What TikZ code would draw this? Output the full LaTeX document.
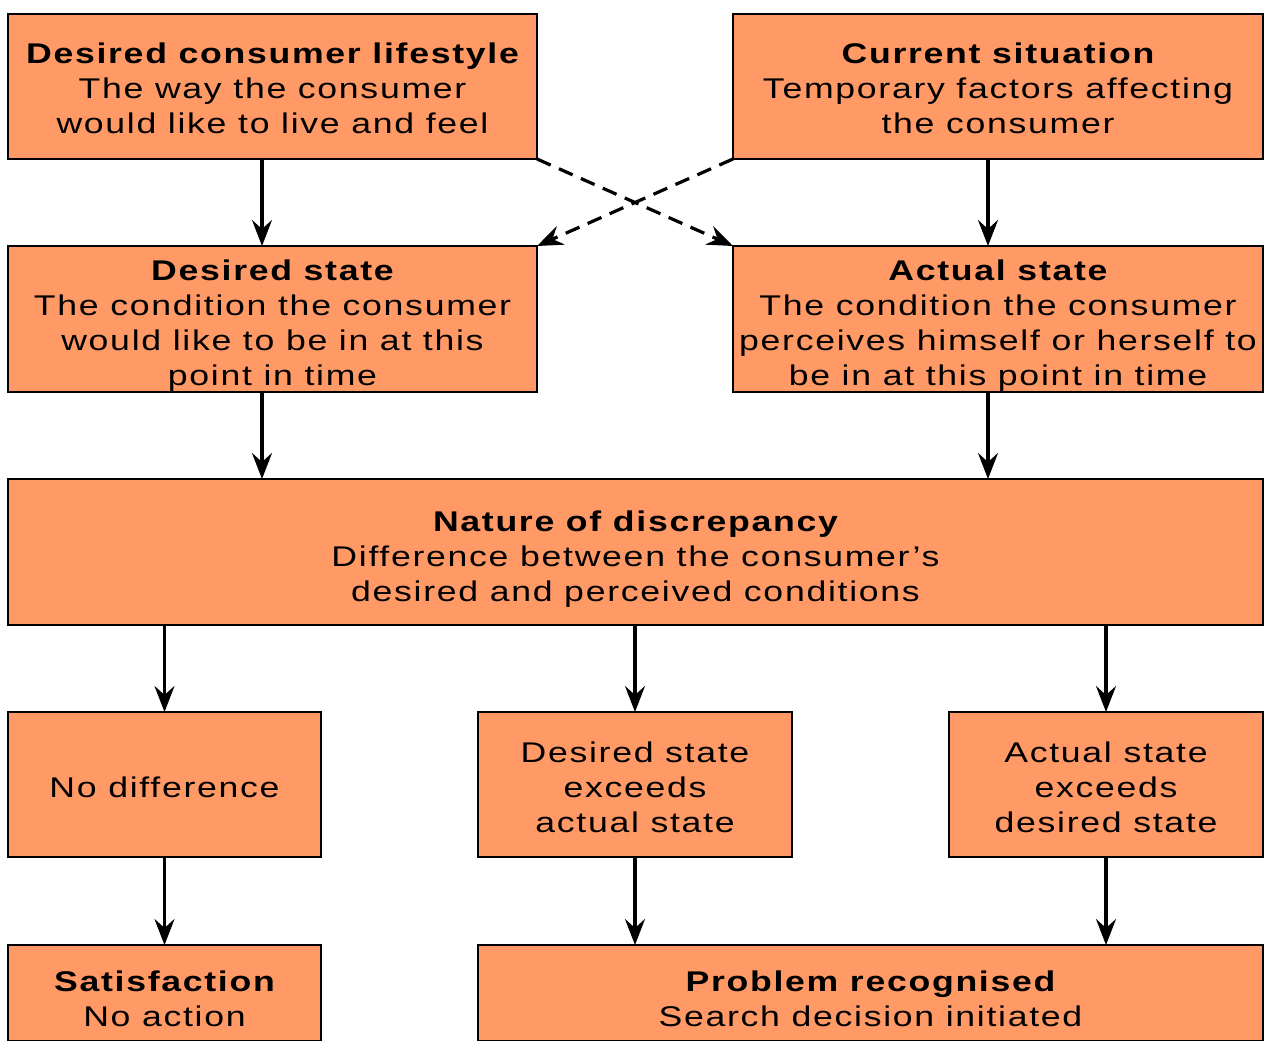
\documentclass[tikz,border=0pt]{standalone}
\usepackage{fontspec}
\setmainfont{Liberation Sans}[FakeStretch=1.25,LetterSpace=6]
\usetikzlibrary{arrows.meta,calc}
\definecolor{boxfill}{HTML}{FF9966}
\newcommand\tstrut{\rule{0pt}{34pt}}
\begin{document}
\begin{tikzpicture}[x=1pt,y=-1pt,
  box/.style={draw=black, line width=1.8pt, fill=boxfill, inner sep=0pt, outer sep=0pt,
    align=center, font=\fontsize{28.5}{35}\selectfont},
  arr/.style={-{Stealth[length=26pt,width=20pt,inset=9pt]}, line width=3.2pt},
  darr/.style={arr, dash pattern=on 15pt off 9pt}]
\useasboundingbox (0,0) rectangle (1267,1041);
\clip (0,0) rectangle (1267,1041);
\fill[white] (0,0) rectangle (1267,1041);
\node[box, minimum width=529pt, minimum height=145pt] (b1) at (272.5,86.5)
  {\rule{0pt}{25pt}{\bfseries Desired consumer lifestyle}\\The way the consumer\\would like to live and feel};
\node[box, minimum width=530pt, minimum height=145pt] (b2) at (998,86.5)
  {\rule{0pt}{25pt}{\bfseries Current situation}\\Temporary factors affecting\\the consumer};
\node[box, minimum width=529pt, minimum height=146pt] (b3) at (272.5,319)
  {\tstrut{\bfseries Desired state}\\The condition the consumer\\would like to be in at this\\point in time};
\node[box, minimum width=530pt, minimum height=146pt] (b4) at (998,319)
  {\tstrut{\bfseries Actual state}\\The condition the consumer\\perceives himself or herself to\\be in at this point in time};
\node[box, minimum width=1255pt, minimum height=146pt] (b5) at (635.5,552)
  {\tstrut{\bfseries Nature of discrepancy}\\Difference between the consumer’s\\desired and perceived conditions};
\node[box, minimum width=313pt, minimum height=145pt] (b6) at (164.5,784.5) {\rule{0pt}{27pt}No difference};
\node[box, minimum width=314pt, minimum height=145pt] (b7) at (635,784.5) {\rule{0pt}{27pt}Desired state\\exceeds\\actual state};
\node[box, minimum width=314pt, minimum height=145pt] (b8) at (1106,784.5) {\rule{0pt}{27pt}Actual state\\exceeds\\desired state};
\node[box, minimum width=313pt, minimum height=96pt] (b9) at (164.5,993)
  {\rule{0pt}{32pt}{\bfseries Satisfaction}\\No action};
\node[box, minimum width=785pt, minimum height=96pt] (b10) at (870.5,993)
  {\rule{0pt}{32pt}{\bfseries Problem recognised}\\Search decision initiated};
\coordinate (cL) at (262,0);
\coordinate (cR) at (988,0);
\draw[arr] (b1.south -| cL) -- (b3.north -| cL);
\draw[arr] (b2.south -| cR) -- (b4.north -| cR);
\draw[arr] (b3.south -| cL) -- (b5.north -| cL);
\draw[arr] (b4.south -| cR) -- (b5.north -| cR);
\draw[darr] (b1.south east) -- (b4.north west);
\draw[darr] (b2.south west) -- (b3.north east);
\draw[arr] (b5.south -| b6) -- (b6.north);
\draw[arr] (b5.south -| b7) -- (b7.north);
\draw[arr] (b5.south -| b8) -- (b8.north);
\draw[arr] (b6.south) -- (b9.north);
\draw[arr] (b7.south) -- (b10.north -| b7);
\draw[arr] (b8.south) -- (b10.north -| b8);
\end{tikzpicture}
\end{document}
